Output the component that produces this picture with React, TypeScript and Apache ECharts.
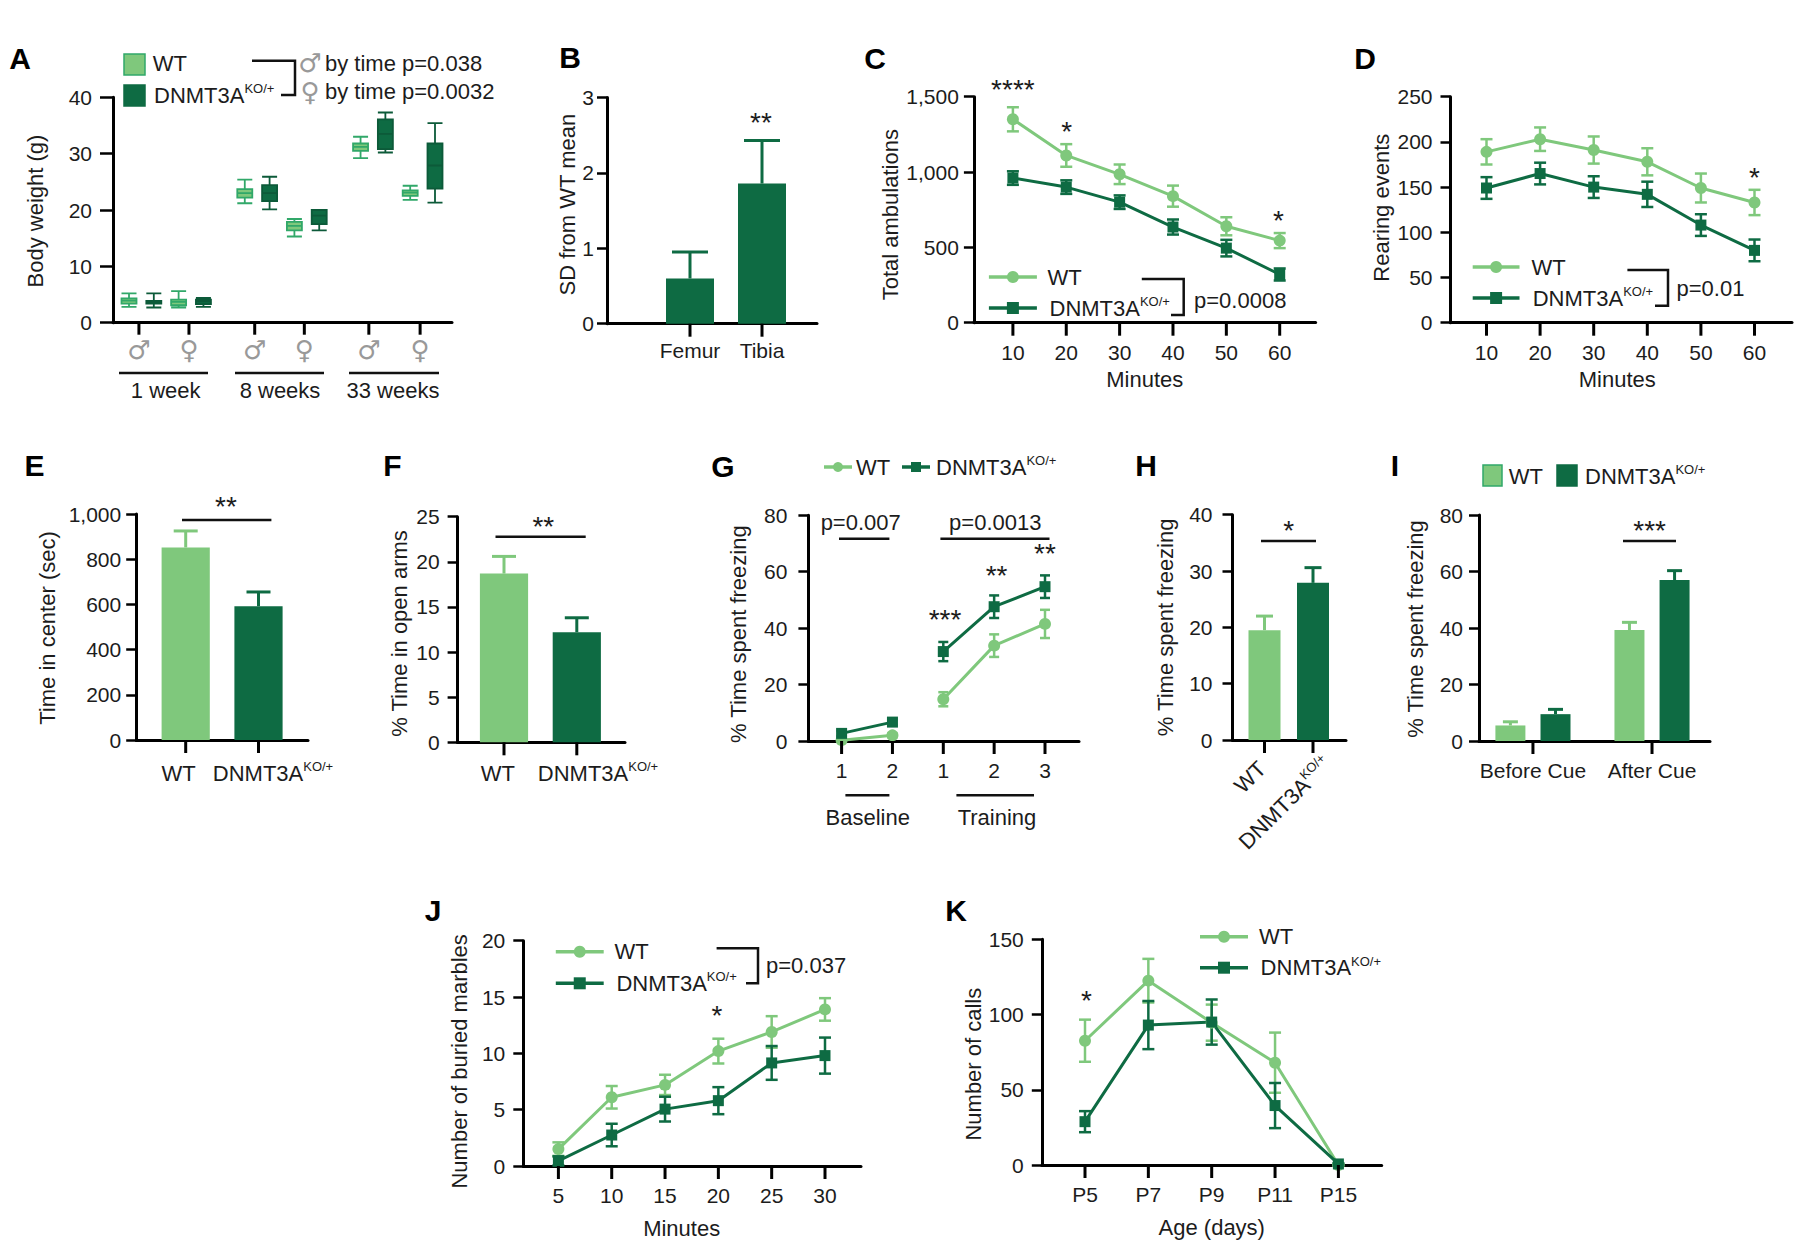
import React, { useEffect, useRef } from "react";
import * as echarts from "echarts";

const LIGHT = "#7fc87c";
const DARK = "#0e6b43";
const LIGHT_EDGE = "#31a869";
const INK = "#1c1c1c";
const GREY = "#999999";
const TICK = "#000000";
const FONT = '"Liberation Sans", Arial, sans-serif';
const SYM = '"DejaVu Sans", sans-serif';
const KO = "DNMT3A";
const KO_SUP = "KO/+";

// Panel A: [min, Q1, median, Q3, max]
const aWtBoxes = [
  [2.8, 3.4, 3.9, 4.3, 5.2], [2.7, 3.1, 3.7, 4.1, 5.6],
  [21.2, 22.2, 23, 23.7, 25.4], [15.3, 16.4, 17.2, 17.9, 18.4],
  [29.2, 30.5, 31.2, 31.8, 33], [21.8, 22.5, 23.1, 23.5, 24.3],
];
const aKoBoxes = [
  [2.7, 3.4, 3.6, 3.85, 5.2], [2.8, 3.3, 3.8, 4.1, 4.4],
  [20.1, 21.6, 23, 24.4, 25.9], [16.4, 17.5, 19, 20, 20],
  [30.2, 30.8, 33.5, 36.1, 37.3], [21.3, 23.8, 27.9, 31.8, 35.4],
];
const aWtSlots = [0, 6, 14, 20, 28, 34];
const aKoSlots = [3, 9, 17, 23, 31, 37];
const aTickSlots = [1.2, 7.25, 15.2, 21.2, 29, 35.2];
const aTickLabels = ["♂", "♀", "♂", "♀", "♂", "♀"];

// Panel B
const bCategories = ["Femur", "Tibia"];
const bValues = [0.6, 1.86];
const bTops = [0.95, 2.43];

// Panel C
const cMinutes = [10, 20, 30, 40, 50, 60];
const cWt = [1350, 1110, 985, 840, 640, 545];
const cWtErr = [80, 75, 65, 70, 60, 50];
const cKo = [960, 900, 800, 635, 495, 320];
const cKoErr = [45, 45, 45, 50, 55, 40];

// Panel D
const dMinutes = [10, 20, 30, 40, 50, 60];
const dWt = [189, 203, 191, 178, 149, 133];
const dWtErr = [14, 13, 15, 15, 16, 14];
const dKo = [149, 165, 150, 142, 108, 80];
const dKoErr = [12, 12, 12, 14, 12, 12];

// Panels E, F
const eValues = [852, 592];
const eTops = [925, 655];
const fValues = [18.7, 12.2];
const fTops = [20.6, 13.8];

// Panel G
const gLabels = ["1", "2", "1", "2", "3"];
const gWt = [0.3, 2, 14.8, 33.8, 41.5];
const gWtErr = [0.5, 0.8, 2.5, 4, 5];
const gKo = [2.7, 6.7, 31.7, 47.6, 54.7];
const gKoErr = [1, 1, 3.4, 4, 4];

// Panel H
const hValues = [19.5, 27.9];
const hTops = [22, 30.6];

// Panel I
const iSlots = [0, 1, 2.64, 3.64];
const iValues = [5.5, 9.5, 39.3, 57];
const iTops = [6.8, 11.2, 42, 60.3];
const iCategories = ["Before Cue", "After Cue"];
const iCategorySlots = [0.5, 3.14];

// Panel J
const jMinutes = [5, 10, 15, 20, 25, 30];
const jWt = [1.5, 6.1, 7.2, 10.2, 11.9, 13.9];
const jWtErr = [0.6, 1, 0.9, 1.1, 1.4, 1];
const jKo = [0.45, 2.75, 5.05, 5.8, 9.15, 9.8];
const jKoErr = [0.4, 1, 1.1, 1.2, 1.5, 1.6];

// Panel K
const kLabels = ["P5", "P7", "P9", "P11", "P15"];
const kWt = [82.6, 122.5, 94.6, 68, 0];
const kWtErr = [14, 14.5, 12, 20, 0.5];
const kKo = [28.8, 93, 95, 39.5, 0.7];
const kKoErr = [7, 16, 15, 15, 0.5];

const supRich = (size = 22, sup = 13) => ({
  k: { fontFamily: FONT, fontSize: size, fill: INK, color: INK, lineHeight: size + 4 },
  s: { fontFamily: FONT, fontSize: sup, fill: INK, color: INK, lineHeight: sup + 1, verticalAlign: "top" as const },
});
const koRich = `{k|${KO}}{s|${KO_SUP}}`;

function buildOption() {
  const grid: any[] = [];
  const xAxis: any[] = [];
  const yAxis: any[] = [];
  const series: any[] = [];
  const elements: any[] = [];

  // Axis frame for one panel. Pixel anchors p0/p1 say where the x values v0/v1 fall.
  function panel(o: any) {
    const idx = grid.length;
    const pxPerUnit = (o.p1 - o.p0) / (o.v1 - o.v0);
    const xMin = o.v0 - (o.p0 - o.left) / pxPerUnit;
    const xMax = o.v1 + (o.right - o.p1) / pxPerUnit;
    grid.push({ left: o.left, top: o.top, width: o.right - o.left, height: o.bottom - o.top, containLabel: false });
    const line = { show: true, onZero: false, lineStyle: { color: "#000", width: 3 } };
    xAxis.push({
      type: "value", gridIndex: idx, min: xMin, max: xMax, splitLine: { show: false },
      axisLine: line,
      axisTick: { show: false },
      axisLabel: {
        show: o.labels !== undefined, customValues: o.ticks, margin: o.xMargin ?? 19,
        color: o.xColor ?? INK, fontFamily: o.xFont ?? FONT, fontSize: o.xSize ?? 21,
        formatter: (v: number) => {
          const i = o.ticks.findIndex((t: number) => Math.abs(t - v) < 1e-6);
          return o.labels ? String(o.labels[i] ?? "") : "";
        },
      },
      name: o.xName, nameLocation: "middle", nameGap: o.xNameGap ?? 46,
      nameTextStyle: { color: INK, fontFamily: FONT, fontSize: 22, padding: o.xNamePad ?? 0 },
    });
    const shift = o.yNameShift ?? 0;
    yAxis.push({
      type: "value", gridIndex: idx, min: o.yMin ?? 0, max: o.yMax, interval: o.yStep, splitLine: { show: false },
      axisLine: line,
      axisTick: { show: true, length: o.yTickLen ?? 10, lineStyle: { color: "#000", width: 2.5 } },
      axisLabel: {
        margin: o.yMargin ?? 18, color: INK, fontFamily: FONT, fontSize: 21,
        formatter: (v: number) => v.toLocaleString("en-US"),
      },
      name: o.yName, nameLocation: "middle", nameGap: o.left - o.yNameX - 11,
      nameTextStyle: {
        color: INK, fontFamily: FONT, fontSize: 22,
        padding: shift >= 0 ? [0, 2 * shift, 0, 0] : [0, 0, 0, -2 * shift],
      },
    });
    const len = o.tickLen ?? 13;
    series.push({
      type: "custom", name: "x ticks", xAxisIndex: idx, yAxisIndex: idx, silent: true, clip: false, z: 10,
      encode: { x: 0, y: 1 },
      data: o.ticks.map((t: number) => [t, o.yMin ?? 0]),
      renderItem: (_: any, api: any) => {
        const p = api.coord([api.value(0), api.value(1)]);
        return { type: "line", shape: { x1: p[0], y1: p[1], x2: p[0], y2: p[1] + len }, style: { stroke: TICK, lineWidth: 3 } };
      },
    });
    return idx;
  }

  function errors(idx: number, xs: number[], lo: number[], hi: number[], color: string, cap: number, width = 2.5, lowCap = true) {
    series.push({
      type: "custom", xAxisIndex: idx, yAxisIndex: idx, silent: true, clip: false,
      encode: { x: 0, y: [1, 2] },
      data: xs.map((x, i) => [x, lo[i], hi[i]]),
      renderItem: (_: any, api: any) => {
        const x = api.value(0);
        const a = api.coord([x, api.value(1)]);
        const b = api.coord([x, api.value(2)]);
        const style = { stroke: color, lineWidth: width, fill: "none" };
        const seg = (x1: number, y1: number, x2: number, y2: number) => ({ type: "line", shape: { x1, y1, x2, y2 }, style });
        const children = [seg(a[0], a[1], b[0], b[1]), seg(b[0] - cap / 2, b[1], b[0] + cap / 2, b[1])];
        if (lowCap) children.push(seg(a[0] - cap / 2, a[1], a[0] + cap / 2, a[1]));
        return { type: "group", children };
      },
    });
  }

  function trace(idx: number, name: string, xs: number[], ys: number[], errs: number[], kind: "wt" | "ko", cap = 12) {
    const color = kind === "wt" ? LIGHT : DARK;
    errors(idx, xs, ys.map((v, i) => v - errs[i]), ys.map((v, i) => v + errs[i]), color, cap);
    series.push({
      type: "line", name, xAxisIndex: idx, yAxisIndex: idx, clip: false,
      data: xs.map((x, i) => [x, ys[i]]),
      symbol: kind === "wt" ? "circle" : "rect", symbolSize: kind === "wt" ? 12 : 11,
      lineStyle: { color, width: 3 }, itemStyle: { color },
    });
  }

  function bars(idx: number, name: string, xs: number[], vals: number[], tops: number[], color: string, w: number, cap: number) {
    errors(idx, xs, vals, tops, color, cap, 3, false);
    series.push({
      type: "bar", name, xAxisIndex: idx, yAxisIndex: idx, barWidth: w, barGap: "-100%",
      data: xs.map((x, i) => [x, vals[i]]), itemStyle: { color },
    });
  }

  // Page-level annotations
  const text = (t: string, x: number, y: number, extra: any = {}, el: any = {}) =>
    elements.push({
      type: "text", x, y, z: 20, ...el,
      style: { text: t, fill: INK, fontFamily: FONT, fontSize: 22, align: "left", verticalAlign: "middle", ...extra },
    });
  const letter = (t: string, x: number, y: number) => text(t, x, y, { fontSize: 30, fontWeight: "bold", align: "center", fill: "#000" });
  const star = (t: string, x: number, y: number) => text(t, x, y + 4, { fontSize: 28, align: "center" });
  const rule = (x1: number, x2: number, y: number, width = 2.5) =>
    elements.push({ type: "line", z: 20, shape: { x1, y1: y, x2, y2: y }, style: { stroke: "#111", lineWidth: width } });
  const bracket = (x1: number, x2: number, x3: number, y1: number, y2: number) =>
    elements.push({
      type: "polyline", z: 20, shape: { points: [[x1, y1], [x3, y1], [x3, y2], [x2, y2]] },
      style: { stroke: "#111", lineWidth: 2.5, fill: "none" },
    });
  const koText = (x: number, y: number, size = 22, sup = 13, extra: any = {}, el: any = {}) =>
    text(koRich, x, y, { rich: supRich(size, sup), ...extra }, el);
  const keyLine = (x1: number, x2: number, y: number, kind: "wt" | "ko", s = 12) => {
    const color = kind === "wt" ? LIGHT : DARK;
    elements.push({ type: "line", z: 20, shape: { x1, y1: y, x2, y2: y }, style: { stroke: color, lineWidth: 3.5 } });
    const c = (x1 + x2) / 2;
    if (kind === "wt") elements.push({ type: "circle", z: 21, shape: { cx: c, cy: y, r: s / 2 }, style: { fill: color } });
    else elements.push({ type: "rect", z: 21, shape: { x: c - s / 2, y: y - s / 2, width: s, height: s }, style: { fill: color } });
  };
  const keyRect = (x: number, y: number, w: number, h: number, kind: "wt" | "ko") =>
    elements.push({
      type: "rect", z: 20, shape: { x, y, width: w, height: h },
      style: { fill: kind === "wt" ? LIGHT : DARK, stroke: kind === "wt" ? LIGHT_EDGE : DARK, lineWidth: 1.5 },
    });

  // A
  const a = panel({
    left: 113, right: 452, top: 97.3, bottom: 322.7, v0: 0, p0: 129, v1: 37, p1: 435,
    yMax: 40, yStep: 10, yName: "Body weight (g)", yNameX: 35, yNameShift: 1, yTickLen: 13, yMargin: 21,
    ticks: aTickSlots, labels: aTickLabels, xColor: GREY, xFont: SYM, xSize: 26, xMargin: 14, tickLen: 12,
  });
  const boxItem = (slot: number, r: number[], fill: string, edge: string) => ({
    value: [slot, ...r], itemStyle: { color: fill, borderColor: edge, borderWidth: 1.8 },
  });
  series.push({
    type: "boxplot", name: "Body weight", xAxisIndex: a, yAxisIndex: a, boxWidth: [15, 15],
    data: [
      ...aWtBoxes.map((r, i) => boxItem(aWtSlots[i], r, LIGHT, LIGHT_EDGE)),
      ...aKoBoxes.map((r, i) => boxItem(aKoSlots[i], r, DARK, "#0c5a39")),
    ],
  });
  letter("A", 20, 58);
  keyRect(124, 54, 21, 21, "wt");
  keyRect(124, 85, 21, 21, "ko");
  text("WT", 152.7, 63);
  koText(154, 95);
  bracket(252, 281, 295, 60.7, 95);
  text("♂", 310, 63, { fontFamily: SYM, fontSize: 26, fill: GREY, align: "center" });
  text("♀", 310, 92, { fontFamily: SYM, fontSize: 26, fill: GREY, align: "center" });
  text("by time p=0.038", 325, 63);
  text("by time p=0.0032", 325, 91);
  rule(119, 208, 373); rule(235, 324, 373); rule(349, 439, 373);
  text("1 week", 165.7, 390, { align: "center" });
  text("8 weeks", 280, 390, { align: "center" });
  text("33 weeks", 393, 390, { align: "center" });

  // B
  const b = panel({
    left: 607, right: 817, top: 97.6, bottom: 323.7, v0: 0, p0: 690, v1: 1, p1: 762,
    yMax: 3, yStep: 1, yName: "SD from WT mean", yNameX: 581, yNameShift: -6, yMargin: 13,
    ticks: [0, 1], labels: bCategories, xMargin: 16,
  });
  bars(b, "Bone", [0, 1], bValues, bTops, DARK, 48, 36);
  letter("B", 570, 57);
  star("**", 761, 118);

  // C
  const c = panel({
    left: 973.9, right: 1315.6, top: 96.7, bottom: 322.7, v0: 10, p0: 1012.9, v1: 60, p1: 1279.7,
    yMax: 1500, yStep: 500, yName: "Total ambulations", yNameX: 890, yNameShift: 5, yMargin: 15,
    ticks: cMinutes, labels: cMinutes, xName: "Minutes",
  });
  trace(c, "WT", cMinutes, cWt, cWtErr, "wt");
  trace(c, KO + KO_SUP, cMinutes, cKo, cKoErr, "ko");
  letter("C", 875, 58);
  star("****", 1012.9, 85); star("*", 1066.8, 127); star("*", 1278.5, 216);
  keyLine(988.9, 1036.9, 277, "wt"); text("WT", 1047.6, 277);
  keyLine(988.9, 1036.9, 308, "ko"); koText(1049.5, 308);
  bracket(1141.8, 1171, 1183.7, 279, 315);
  text("p=0.0008", 1194, 300);

  // D
  const d = panel({
    left: 1450.5, right: 1792, top: 96.7, bottom: 322.7, v0: 10, p0: 1486.5, v1: 60, p1: 1754.5,
    yMax: 250, yStep: 50, yName: "Rearing events", yNameX: 1381.6, yNameShift: -2,
    ticks: dMinutes, labels: dMinutes, xName: "Minutes", xNamePad: [0, 8, 0, 0],
  });
  trace(d, "WT", dMinutes, dWt, dWtErr, "wt");
  trace(d, KO + KO_SUP, dMinutes, dKo, dKoErr, "ko");
  letter("D", 1365, 58);
  star("*", 1754.5, 173);
  keyLine(1472.7, 1519.5, 267, "wt"); text("WT", 1531.5, 267);
  keyLine(1472.7, 1519.5, 298, "ko"); koText(1532.7, 298);
  bracket(1627.4, 1655, 1668, 270, 305.7);
  text("p=0.01", 1676.5, 288);

  // E
  const e = panel({
    left: 136.2, right: 308, top: 514, bottom: 740, v0: 0, p0: 185.7, v1: 1, p1: 258.5,
    yMax: 1000, yStep: 200, yName: "Time in center (sec)", yNameX: 47, yNameShift: 1, yMargin: 15,
    ticks: [0, 1],
  });
  bars(e, "WT", [0], [eValues[0]], [eTops[0]], LIGHT, 48.2, 24);
  bars(e, KO + KO_SUP, [1], [eValues[1]], [eTops[1]], DARK, 48.2, 24);
  letter("E", 34.4, 465);
  rule(182, 271.4, 520);
  star("**", 226, 502);
  text("WT", 178.6, 773, { align: "center" });
  koText(273, 773, 22, 13, { align: "center" });

  // F
  const f = panel({
    left: 457.6, right: 625, top: 516.7, bottom: 742.3, v0: 0, p0: 504, v1: 1, p1: 576.8,
    yMax: 25, yStep: 5, yName: "% Time in open arms", yNameX: 399.6, yNameShift: 4,
    ticks: [0, 1],
  });
  bars(f, "WT", [0], [fValues[0]], [fTops[0]], LIGHT, 48.2, 24);
  bars(f, KO + KO_SUP, [1], [fValues[1]], [fTops[1]], DARK, 48.2, 24);
  letter("F", 392.4, 465);
  rule(495.5, 585.7, 536.7);
  star("**", 543.3, 522);
  text("WT", 497.8, 773, { align: "center" });
  koText(598, 773, 22, 13, { align: "center" });

  // G
  const g = panel({
    left: 808.4, right: 1079, top: 515.3, bottom: 741, v0: 0, p0: 841.6, v1: 4, p1: 1045,
    yMax: 80, yStep: 20, yName: "% Time spent freezing", yNameX: 738, yNameShift: 6, yMargin: 21,
    ticks: [0, 1, 2, 3, 4], labels: gLabels,
  });
  const gBase = [0, 1];
  const gTrain = [2, 3, 4];
  const part = (arr: number[], xs: number[]) => xs.map((i) => arr[i]);
  trace(g, "WT baseline", gBase, part(gWt, gBase), part(gWtErr, gBase), "wt", 10);
  trace(g, "WT training", gTrain, part(gWt, gTrain), part(gWtErr, gTrain), "wt", 10);
  trace(g, "KO baseline", gBase, part(gKo, gBase), part(gKoErr, gBase), "ko", 10);
  trace(g, "KO training", gTrain, part(gKo, gTrain), part(gKoErr, gTrain), "ko", 10);
  letter("G", 723, 466);
  keyLine(824, 852, 467, "wt", 10); text("WT", 856, 467);
  keyLine(902, 930, 467, "ko", 10); koText(936, 467);
  text("p=0.007", 860.7, 522.7, { align: "center" });
  text("p=0.0013", 995.3, 522.7, { align: "center" });
  rule(839, 889.4, 538.7); rule(940.4, 1049.5, 538.7);
  star("**", 1045, 549); star("**", 996.6, 571); star("***", 945, 615);
  rule(845.4, 889.4, 795.3); rule(956.4, 1034, 795.3);
  text("Baseline", 867.7, 817.7, { align: "center" });
  text("Training", 997, 817.7, { align: "center" });

  // H
  const h = panel({
    left: 1232.5, right: 1346, top: 514.7, bottom: 740, v0: 0, p0: 1264.5, v1: 1, p1: 1313,
    yMax: 40, yStep: 10, yName: "% Time spent freezing", yNameX: 1165.6, yMargin: 20,
    ticks: [0, 1],
  });
  bars(h, "WT", [0], [hValues[0]], [hTops[0]], LIGHT, 32, 17);
  bars(h, KO + KO_SUP, [1], [hValues[1]], [hTops[1]], DARK, 32, 17);
  letter("H", 1146, 465);
  rule(1261, 1316, 541);
  star("*", 1288.6, 526);
  text("WT", 1250, 777, { align: "center" }, { rotation: Math.PI / 4 });
  koText(1285, 803, 22, 13, { align: "center" }, { rotation: Math.PI / 4 });

  // I
  const iAxis = panel({
    left: 1479, right: 1710, top: 515, bottom: 741, v0: 0, p0: 1510.4, v1: 1, p1: 1555.5,
    yMax: 80, yStep: 20, yName: "% Time spent freezing", yNameX: 1415.6, yNameShift: 1, yMargin: 16,
    ticks: iCategorySlots, labels: iCategories,
  });
  const pick = (arr: number[], ids: number[]) => ids.map((n) => arr[n]);
  bars(iAxis, "WT", pick(iSlots, [0, 2]), pick(iValues, [0, 2]), pick(iTops, [0, 2]), LIGHT, 30, 15);
  bars(iAxis, KO + KO_SUP, pick(iSlots, [1, 3]), pick(iValues, [1, 3]), pick(iTops, [1, 3]), DARK, 30, 15);
  letter("I", 1395, 465);
  keyRect(1483, 465, 19, 21, "wt"); text("WT", 1508.7, 476);
  keyRect(1557, 465, 20, 21, "ko"); koText(1585, 476);
  rule(1623, 1676, 541);
  star("***", 1649.6, 526);

  // J
  const j = panel({
    left: 523.3, right: 861, top: 940.7, bottom: 1166, v0: 5, p0: 558.4, v1: 30, p1: 825,
    yMax: 20, yStep: 5, yName: "Number of buried marbles", yNameX: 459.5, yNameShift: 8,
    ticks: jMinutes, labels: jMinutes, xName: "Minutes", xNameGap: 51, xNamePad: [0, 21, 0, 0],
  });
  trace(j, "WT", jMinutes, jWt, jWtErr, "wt");
  trace(j, KO + KO_SUP, jMinutes, jKo, jKoErr, "ko");
  letter("J", 433, 910);
  star("*", 717, 1011);
  keyLine(555.8, 603.7, 951.7, "wt"); text("WT", 614.5, 951.7);
  keyLine(555.8, 603.7, 983.3, "ko"); koText(616.4, 983.3);
  bracket(716.6, 746, 758, 948.3, 983.3);
  text("p=0.037", 766, 965);

  // K
  const k = panel({
    left: 1041.8, right: 1381.7, top: 939.3, bottom: 1165, v0: 0, p0: 1085, v1: 4, p1: 1338.4,
    yMax: 150, yStep: 50, yName: "Number of calls", yNameX: 975, yNameShift: 12,
    ticks: [0, 1, 2, 3, 4], labels: kLabels, xName: "Age (days)", xNameGap: 51,
  });
  const kX = [0, 1, 2, 3, 4];
  trace(k, "WT", kX, kWt, kWtErr, "wt");
  trace(k, KO + KO_SUP, kX, kKo, kKoErr, "ko");
  letter("K", 956, 910);
  star("*", 1086.4, 996);
  keyLine(1200, 1248, 936.7, "wt"); text("WT", 1259, 936.7);
  keyLine(1200, 1248, 967.7, "ko"); koText(1260.6, 967.7);

  return {
    animation: false,
    backgroundColor: "#fff",
    grid, xAxis, yAxis, series,
    graphic: { elements },
  };
}

export default function App() {
  const ref = useRef<HTMLDivElement>(null);
  useEffect(() => {
    const chart = echarts.init(ref.current!, undefined, { renderer: "svg" });
    chart.setOption(buildOption() as any);
    return () => chart.dispose();
  }, []);
  return <div ref={ref} style={{ position: "absolute", left: 0, top: 0, width: 1800, height: 1247 }} />;
}
